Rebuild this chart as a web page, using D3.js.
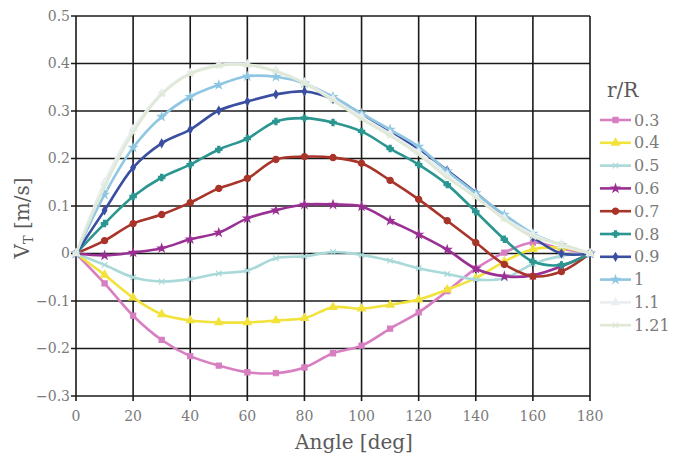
<!DOCTYPE html>
<html>
<head>
<meta charset="utf-8">
<script src="https://cdn.jsdelivr.net/npm/d3@7"></script>
<style>
  body { margin: 0; background: #fff; }
</style>
</head>
<body>
<svg id="chart" width="683" height="459"></svg>
<script>
// angle positions (deg)
var angles = [0, 10, 20, 30, 40, 50, 60, 70, 80, 90, 100, 110, 120, 130, 140, 150, 160, 170, 180];

// V_T [m/s] for each r/R
var v03  = [0, -0.063, -0.131, -0.182, -0.216, -0.236, -0.250, -0.252, -0.240, -0.210, -0.194, -0.158, -0.124, -0.079, -0.032, 0.002, 0.023, 0.010, 0];
var v04  = [0, -0.045, -0.093, -0.128, -0.141, -0.145, -0.145, -0.141, -0.136, -0.113, -0.116, -0.108, -0.097, -0.076, -0.052, -0.017, 0.009, 0.012, 0];
var v05  = [0, -0.024, -0.050, -0.059, -0.054, -0.042, -0.036, -0.010, -0.006, 0.003, -0.003, -0.015, -0.031, -0.043, -0.055, -0.052, -0.022, -0.005, 0];
var v06  = [0, -0.004, 0.002, 0.011, 0.030, 0.044, 0.074, 0.091, 0.103, 0.103, 0.099, 0.069, 0.040, 0.008, -0.032, -0.048, -0.046, -0.027, 0];
var v07  = [0, 0.027, 0.063, 0.082, 0.107, 0.137, 0.158, 0.198, 0.204, 0.202, 0.190, 0.154, 0.114, 0.069, 0.023, -0.023, -0.048, -0.038, 0];
var v08  = [0, 0.063, 0.120, 0.160, 0.187, 0.219, 0.242, 0.278, 0.285, 0.276, 0.257, 0.221, 0.187, 0.145, 0.088, 0.030, -0.017, -0.024, 0];
var v09  = [0, 0.091, 0.181, 0.232, 0.261, 0.301, 0.320, 0.335, 0.341, 0.325, 0.290, 0.255, 0.220, 0.175, 0.128, 0.078, 0.034, 0.000, 0];
var v10  = [0, 0.124, 0.223, 0.288, 0.330, 0.355, 0.373, 0.372, 0.358, 0.330, 0.295, 0.261, 0.225, 0.173, 0.127, 0.082, 0.042, 0.018, 0];
var v11  = [0, 0.150, 0.262, 0.337, 0.380, 0.397, 0.398, 0.385, 0.360, 0.325, 0.288, 0.252, 0.213, 0.165, 0.120, 0.075, 0.040, 0.017, 0];
var v121 = [0, 0.140, 0.255, 0.335, 0.378, 0.395, 0.397, 0.383, 0.358, 0.322, 0.283, 0.248, 0.208, 0.160, 0.118, 0.072, 0.035, 0.020, 0];

var labels = ["0.3", "0.4", "0.5", "0.6", "0.7", "0.8", "0.9", "1", "1.1", "1.21"];
var values = [v03, v04, v05, v06, v07, v08, v09, v10, v11, v121];
var colors = ["#d77fc0", "#f2e23c", "#a9d9d8", "#9a3093", "#a8342a", "#2b9690", "#3b4fa0", "#8fc6e2", "#e9eef1", "#dfe9d6"];
var shapes = [d3.symbolSquare, d3.symbolTriangle, d3.symbolTimes, d3.symbolStar, d3.symbolCircle,
              d3.symbolCross, d3.symbolDiamond, d3.symbolStar, d3.symbolTriangle, d3.symbolTimes];
var sizes  = [26, 26, 22, 18, 30, 22, 18, 18, 24, 22];

var xTicks = [0, 20, 40, 60, 80, 100, 120, 140, 160, 180];
var yTicks = [-0.3, -0.2, -0.1, 0, 0.1, 0.2, 0.3, 0.4, 0.5];

var pLeft = 76, pRight = 590, pTop = 16, pBottom = 396;
var serif = "DejaVu Serif";

var svg = d3.select("#chart");

var x = d3.scaleLinear().domain([0, 180]).range([pLeft, pRight]);
var y = d3.scaleLinear().domain([-0.3, 0.5]).range([pBottom, pTop]);

// grid
svg.append("g").selectAll("line")
    .data(xTicks)
  .enter().append("line")
    .attr("x1", function(d) { return x(d); })
    .attr("x2", function(d) { return x(d); })
    .attr("y1", pTop)
    .attr("y2", pBottom + 5)
    .attr("stroke", "#1a1a1a")
    .attr("stroke-width", 1.6);

svg.append("g").selectAll("line")
    .data(yTicks)
  .enter().append("line")
    .attr("x1", pLeft - 5)
    .attr("x2", pRight)
    .attr("y1", function(d) { return y(d); })
    .attr("y2", function(d) { return y(d); })
    .attr("stroke", "#1a1a1a")
    .attr("stroke-width", 1.6);

// tick labels
var fmt = function(d) { return d === 0 ? "0" : d3.format(".1f")(d); };

svg.append("g").selectAll("text")
    .data(yTicks)
  .enter().append("text")
    .attr("x", pLeft - 6)
    .attr("y", function(d) { return y(d); })
    .attr("dy", "0.35em")
    .attr("text-anchor", "end")
    .attr("font-family", serif)
    .attr("font-size", 14)
    .attr("fill", "#7a7a7a")
    .text(fmt);

svg.append("g").selectAll("text")
    .data(xTicks)
  .enter().append("text")
    .attr("x", function(d) { return x(d); })
    .attr("y", 421)
    .attr("text-anchor", "middle")
    .attr("font-family", serif)
    .attr("font-size", 14)
    .attr("fill", "#7a7a7a")
    .text(function(d) { return d; });

// axis titles
svg.append("text")
    .attr("x", 354)
    .attr("y", 449)
    .attr("text-anchor", "middle")
    .attr("font-family", serif)
    .attr("font-size", 20)
    .attr("fill", "#5a5a5a")
    .text("Angle [deg]");

var yt = svg.append("text")
    .attr("transform", "translate(29,218) rotate(-90)")
    .attr("text-anchor", "middle")
    .attr("font-family", serif)
    .attr("font-size", 20)
    .attr("fill", "#5a5a5a");
yt.append("tspan").text("V");
yt.append("tspan").attr("font-size", 13).attr("dy", 4).text("T");
yt.append("tspan").attr("dy", -4).text(" [m/s]");

// series
var line = d3.line()
    .x(function(d, i) { return x(angles[i]); })
    .y(function(d) { return y(d); })
    .curve(d3.curveCatmullRom.alpha(0.5));

var series = svg.append("g").selectAll("g")
    .data(values)
  .enter().append("g");

series.append("path")
    .attr("d", line)
    .attr("fill", "none")
    .attr("stroke", function(d, i) { return colors[i]; })
    .attr("stroke-width", 2.6);

series.each(function(vals, i) {
  var sym = d3.symbol().type(shapes[i]).size(sizes[i]);
  d3.select(this).selectAll("path.m")
      .data(vals)
    .enter().append("path")
      .attr("class", "m")
      .attr("d", sym)
      .attr("transform", function(d, j) { return "translate(" + x(angles[j]) + "," + y(d) + ")"; })
      .attr("fill", colors[i])
      .attr("stroke", colors[i])
      .attr("stroke-width", 1.2);
});

// legend
svg.append("text")
    .attr("x", 607)
    .attr("y", 97)
    .attr("font-family", serif)
    .attr("font-size", 20)
    .attr("fill", "#5a5a5a")
    .text("r/R");

var leg = svg.append("g").selectAll("g")
    .data(labels)
  .enter().append("g")
    .attr("transform", function(d, i) { return "translate(600," + (120 + i * 22.8) + ")"; });

leg.append("line")
    .attr("x1", 0).attr("x2", 31)
    .attr("stroke", function(d, i) { return colors[i]; })
    .attr("stroke-width", 2.6);

leg.append("path")
    .attr("d", function(d, i) { return d3.symbol().type(shapes[i]).size(sizes[i])(); })
    .attr("transform", "translate(15.5,0)")
    .attr("fill", function(d, i) { return colors[i]; })
    .attr("stroke", function(d, i) { return colors[i]; })
    .attr("stroke-width", 1.2);

leg.append("text")
    .attr("x", 34)
    .attr("dy", "0.35em")
    .attr("font-family", serif)
    .attr("font-size", 16)
    .attr("fill", "#7a7a7a")
    .text(function(d) { return d; });
</script>
</body>
</html>
